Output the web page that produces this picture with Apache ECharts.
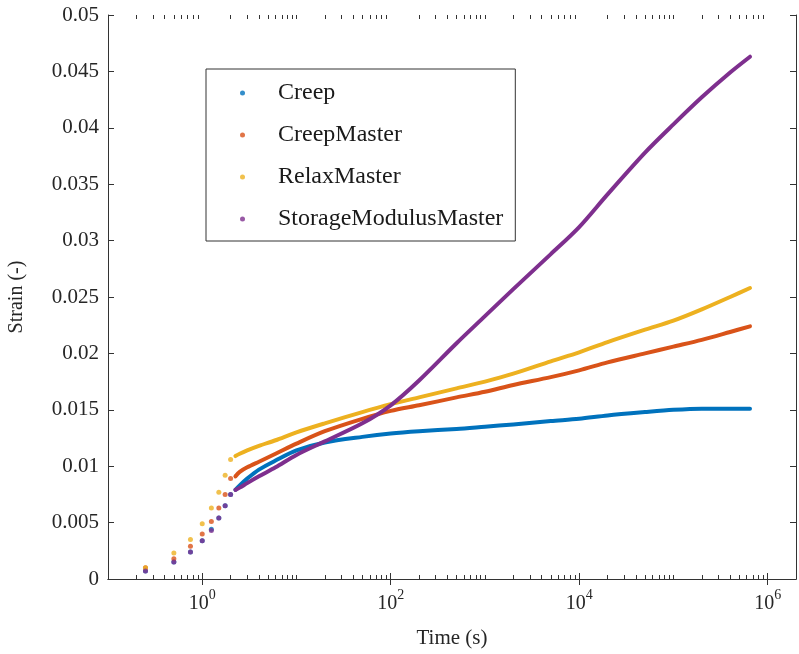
<!DOCTYPE html>
<html>
<head>
<meta charset="utf-8">
<title>Strain vs Time</title>
<script src="https://cdn.jsdelivr.net/npm/echarts@6/dist/echarts.min.js"></script>
<style>
  html, body { margin: 0; padding: 0; background: #fff; }
  #chart { width: 799px; height: 654px; }
</style>
</head>
<body>
<div id="chart"></div>
<script>
// Series names and colours
const seriesNames = ['Creep', 'CreepMaster', 'RelaxMaster', 'StorageModulusMaster'];
const seriesColors = ['#0072BD', '#D95319', '#EDB120', '#7E2F8E'];

// Loading ramp: individual samples (s)
const rampTime = [0.25, 0.5, 0.75, 1.0, 1.25, 1.5, 1.75, 2.0];
const creepRamp = [0.0007, 0.0015, 0.0024, 0.0034, 0.0044, 0.0054, 0.0065, 0.0075];
const creepMasterRamp = [0.0010, 0.0018, 0.0029, 0.0040, 0.0051, 0.0063, 0.0075, 0.0089];
const relaxMasterRamp = [0.0010, 0.0023, 0.0035, 0.0049, 0.0063, 0.0077, 0.0092, 0.0106];
const storageMasterRamp = [0.0007, 0.0015, 0.0024, 0.0034, 0.0043, 0.0054, 0.0065, 0.0075];

// Hold phase: dense samples (s)
const holdTime = [2.25, 2.5, 3, 4, 6, 10, 20, 50, 100, 200, 500, 1e3, 2e3, 5e3, 1e4, 2e4, 5e4, 1e5, 2e5, 4e5, 6.5e5];
const creepHold = [0.0079, 0.0083, 0.0089, 0.0097, 0.0105, 0.0114, 0.0121, 0.0126, 0.0129, 0.0131, 0.0133, 0.0135, 0.0137, 0.0140, 0.0142, 0.0145, 0.0148, 0.0150, 0.0151, 0.0151, 0.0151];
const creepMasterHold = [0.0091, 0.0095, 0.0099, 0.0104, 0.0111, 0.0120, 0.0131, 0.0142, 0.0149, 0.0154, 0.0161, 0.0166, 0.0172, 0.0179, 0.0185, 0.0192, 0.0200, 0.0206, 0.0212, 0.0219, 0.0224];
const relaxMasterHold = [0.0109, 0.0111, 0.0114, 0.0118, 0.0123, 0.0130, 0.0138, 0.0148, 0.0155, 0.0161, 0.0169, 0.0175, 0.0182, 0.0193, 0.0201, 0.0210, 0.0221, 0.0229, 0.0239, 0.0250, 0.0258];
const storageMasterHold = [0.0079, 0.0081, 0.0085, 0.0091, 0.0099, 0.0110, 0.0122, 0.0138, 0.0154, 0.0176, 0.0209, 0.0233, 0.0257, 0.0288, 0.0312, 0.0341, 0.0378, 0.0403, 0.0427, 0.0449, 0.0463];

// Axis ticks
const xMajorTicks = [1, 100, 1e4, 1e6];
const xMinorTicks = [];
for (let e = -1; e <= 5; e++) {
  for (let m = 1; m <= 9; m++) {
    const v = m * Math.pow(10, e);
    if (v > 0.1 && !xMajorTicks.includes(v)) xMinorTicks.push(+v.toPrecision(3));
  }
}
const xMin = 0.1, xMax = 2e6;
const yMin = 0, yMax = 0.05, yStep = 0.005;

const ramps = [creepRamp, creepMasterRamp, relaxMasterRamp, storageMasterRamp];
const holds = [creepHold, creepMasterHold, relaxMasterHold, storageMasterHold];

const FONT = '"Liberation Serif", "Times New Roman", serif';
const AXIS_COLOR = '#333';

const series = [];
seriesNames.forEach((name, i) => {
  series.push({
    name: name,
    type: 'scatter',
    xAxisIndex: 0, yAxisIndex: 0,
    symbol: 'circle',
    symbolSize: 5,
    itemStyle: { color: seriesColors[i] },
    data: rampTime.map((t, k) => [t, ramps[i][k]]),
    z: 2 + i,
    silent: true
  });
  series.push({
    name: name,
    type: 'line',
    xAxisIndex: 0, yAxisIndex: 0,
    smooth: 0.3,
    showSymbol: false,
    lineStyle: { color: seriesColors[i], width: 4, cap: 'round', join: 'round' },
    itemStyle: { color: seriesColors[i] },
    data: holdTime.map((t, k) => [t, holds[i][k]]),
    z: 2 + i,
    silent: true
  });
});

const gridBox = { left: 108, right: 3, top: 15, bottom: 75, containLabel: false, outerBoundsMode: 'none' };

const chart = echarts.init(document.getElementById('chart'), null, { renderer: 'canvas' });
chart.setOption({
  backgroundColor: '#fff',
  animation: false,
  grid: [Object.assign({}, gridBox), Object.assign({}, gridBox)],
  legend: {
    orient: 'vertical',
    left: 206,
    top: 69,
    padding: [12, 12, 10, 34],
    itemGap: 18,
    itemWidth: 5,
    itemHeight: 5,
    icon: 'circle',
    borderColor: '#333',
    borderWidth: 1,
    backgroundColor: '#fff',
    data: seriesNames,
    textStyle: { fontFamily: FONT, fontSize: 24, color: '#1a1a1a', lineHeight: 24, padding: [0, 0, 0, 28] },
    selectedMode: false
  },
  xAxis: [
    {
      type: 'log', gridIndex: 0, position: 'bottom', min: xMin, max: xMax, logBase: 10,
      name: 'Time (s)', nameLocation: 'middle', nameGap: 49,
      nameTextStyle: { fontFamily: FONT, fontSize: 21, color: '#262626' },
      axisLine: { show: true, lineStyle: { color: AXIS_COLOR, width: 1 } },
      axisTick: { show: true, inside: true, length: 6, customValues: xMajorTicks, lineStyle: { color: AXIS_COLOR } },
      splitLine: { show: false },
      axisLabel: {
        customValues: xMajorTicks,
        margin: 9,
        formatter: v => '{b|10}{s|' + Math.round(Math.log10(v)) + '}',
        rich: {
          b: { fontFamily: FONT, fontSize: 20, color: '#262626', lineHeight: 26, verticalAlign: 'bottom' },
          s: { fontFamily: FONT, fontSize: 14, color: '#262626', lineHeight: 14, verticalAlign: 'top' }
        }
      }
    },
    {
      type: 'log', gridIndex: 0, position: 'top', min: xMin, max: xMax, logBase: 10,
      axisLine: { show: true, lineStyle: { color: AXIS_COLOR, width: 1 } },
      axisTick: { show: true, inside: true, length: 6, customValues: xMajorTicks, lineStyle: { color: AXIS_COLOR } },
      axisLabel: { show: false },
      splitLine: { show: false }
    },
    {
      type: 'log', gridIndex: 1, position: 'bottom', min: xMin, max: xMax, logBase: 10,
      axisLine: { show: false },
      axisTick: { show: true, inside: true, length: 4, customValues: xMinorTicks, lineStyle: { color: AXIS_COLOR } },
      axisLabel: { show: false },
      splitLine: { show: false }
    },
    {
      type: 'log', gridIndex: 1, position: 'top', min: xMin, max: xMax, logBase: 10,
      axisLine: { show: false },
      axisTick: { show: true, inside: true, length: 4, customValues: xMinorTicks, lineStyle: { color: AXIS_COLOR } },
      axisLabel: { show: false },
      splitLine: { show: false }
    }
  ],
  yAxis: [
    {
      type: 'value', gridIndex: 0, position: 'left', min: yMin, max: yMax, interval: yStep,
      name: 'Strain (-)', nameLocation: 'middle', nameGap: 81,
      nameTextStyle: { fontFamily: FONT, fontSize: 20, color: '#262626' },
      axisLine: { show: true, lineStyle: { color: AXIS_COLOR, width: 1 } },
      axisTick: { show: true, inside: true, length: 6, lineStyle: { color: AXIS_COLOR } },
      splitLine: { show: false },
      axisLabel: {
        margin: 9,
        fontFamily: FONT, fontSize: 21, color: '#262626',
        formatter: v => String(+v.toFixed(3))
      }
    },
    {
      type: 'value', gridIndex: 0, position: 'right', min: yMin, max: yMax, interval: yStep,
      axisLine: { show: true, lineStyle: { color: AXIS_COLOR, width: 1 } },
      axisTick: { show: true, inside: true, length: 6, lineStyle: { color: AXIS_COLOR } },
      axisLabel: { show: false },
      splitLine: { show: false }
    },
    {
      type: 'value', gridIndex: 1, min: yMin, max: yMax, show: false
    }
  ],
  series: series
});
</script>
</body>
</html>
